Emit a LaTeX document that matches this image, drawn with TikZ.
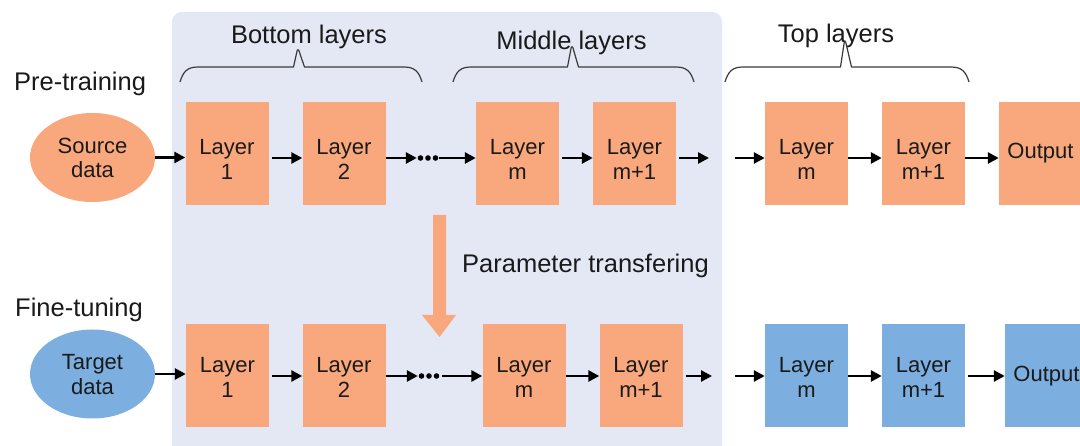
\documentclass[tikz,border=0pt]{standalone}
\usepackage{fontspec}
\setmainfont{Liberation Sans}
\usetikzlibrary{shapes.geometric,arrows.meta}
\definecolor{orangebox}{HTML}{F8A87C}
\definecolor{bluebox}{HTML}{7CAEE0}
\definecolor{panelbg}{HTML}{E4E8F5}
\definecolor{inktext}{HTML}{1A1A1A}
\definecolor{braceink}{HTML}{3A3A3A}
\newcommand\twolines[3][18pt]{\raisebox{0pt}[\dimexpr\height+#1\relax][\depth]{\begin{tabular}{@{}c@{}}#2\\#3\end{tabular}}}
\tikzset{
  layerbox/.style={rectangle, draw=none, minimum width=83pt, minimum height=103pt, inner sep=0pt, font=\fontsize{22}{25}\selectfont, text=inktext},
  orangelayer/.style={layerbox, fill=orangebox},
  bluelayer/.style={layerbox, fill=bluebox},
  dataellipse/.style={ellipse, draw=none, minimum width=125pt, minimum height=89pt, inner sep=0pt, font=\fontsize{22}{24.5}\selectfont, text=inktext},
  flow/.style={line width=2.6pt, draw=black, -{Triangle[length=11pt,width=11pt]}, shorten <=3pt},
  headlabel/.style={font=\fontsize{25.5}{30}\selectfont, text=inktext, inner sep=0pt},
  bracestyle/.style={draw=braceink, line width=1.2pt, line join=round},
  dotsnode/.style={inner sep=0pt, minimum width=22pt, minimum height=6pt},
}
\def\mybrace#1#2#3#4{\draw[bracestyle] (#1,82) .. controls (#1+3,72) and (#1+7,67) .. (#1+18,67) -- (#2-4.5,67) -- (#2-0.7,#4) -- (#2+0.7,#4) -- (#2+6.5,67) -- (#3-18,67) .. controls (#3-7,67) and (#3-3,72) .. (#3,82);}
\begin{document}
\begin{tikzpicture}[x=1pt,y=-1pt]
\useasboundingbox (0,0) rectangle (1080,446);
\clip (0,0) rectangle (1080,446);
\fill[white] (0,0) rectangle (1080,446);
% panel
\fill[panelbg, rounded corners=10pt] (172,12) rectangle (722,470);

% headings
\node[headlabel, anchor=base] (hbottom) at (309,44) {Bottom layers};
\node[headlabel, anchor=base] (hmiddle) at (571.5,50) {Middle layers};
\node[headlabel, anchor=base] (htop) at (836,43) {Top layers};
\node[headlabel, anchor=base west] (pre) at (14,91) {Pre-training};
\node[headlabel, anchor=base west] (fine) at (15,317) {Fine-tuning};
\node[headlabel, anchor=base west] (ptrans) at (462,273) {Parameter transfering};

% braces
\mybrace{180}{298}{422}{50}
\mybrace{453}{572}{694}{47}
\mybrace{725}{845}{969}{42}

% top row
\node[dataellipse, fill=orangebox] (src) at (92.5,157.5) {\twolines[6pt]{Source}{data}};
\node[orangelayer] (a1) at (227,153.5) {\twolines{Layer}{1}};
\node[orangelayer] (a2) at (344,153.5) {\twolines{Layer}{2}};
\node[dotsnode] (adots) at (428,158) {};
\fill (adots.center) ++(-7.5,0) circle (2.8pt) (adots.center) circle (2.8pt) (adots.center) ++(7.5,0) circle (2.8pt);
\node[orangelayer] (am) at (517.5,153.5) {\twolines{Layer}{m}};
\node[orangelayer] (amp) at (634.5,153.5) {\twolines{Layer}{m+1}};
\coordinate (aout1) at (709,158);
\coordinate (ain2) at (735,158);
\node[orangelayer] (tm) at (806.5,153.5) {\twolines{Layer}{m}};
\node[orangelayer] (tmp) at (923.5,153.5) {\twolines{Layer}{m+1}};
\node[orangelayer] (tout) at (1040.5,153.5) {Output};

\draw[flow, shorten <=0pt] (src) -- (a1.west |- src);
\draw[flow] (a1.east |- 0,158) -- (a2.west |- 0,158);
\draw[flow, shorten <=0pt] (a2.east |- 0,158) -- (adots.west);
\draw[flow, shorten <=0pt] (adots.east) -- (am.west |- 0,158);
\draw[flow] (am.east |- 0,158) -- (amp.west |- 0,158);
\draw[flow] (amp.east |- 0,158) -- (aout1);
\draw[flow, shorten <=0pt] (ain2) -- (tm.west |- 0,158);
\draw[flow, shorten <=0pt] (tm.east |- 0,158) -- (tmp.west |- 0,158);
\draw[flow, shorten <=0pt] (tmp.east |- 0,158) -- (tout.west |- 0,158);

% parameter transfer arrow
\coordinate (ptop) at (439.5,215);
\coordinate (ptip) at (439.5,337);
\fill[orangebox] (433,215) -- (446,215) -- (446,315) -- (456,315) -- (ptip) -- (422,315) -- (433,315) -- cycle;

% bottom row
\node[dataellipse, fill=bluebox] (tgt) at (92.5,374) {\twolines[6pt]{Target}{data}};
\node[orangelayer] (b1) at (227.5,376) {\twolines[9pt]{Layer}{1}};
\node[orangelayer] (b2) at (344,376) {\twolines[9pt]{Layer}{2}};
\node[dotsnode] (bdots) at (429,376) {};
\fill (bdots.center) ++(-7.5,0) circle (2.8pt) (bdots.center) circle (2.8pt) (bdots.center) ++(7.5,0) circle (2.8pt);
\node[orangelayer] (bm) at (524,376) {\twolines[9pt]{Layer}{m}};
\node[orangelayer] (bmp) at (641,376) {\twolines[9pt]{Layer}{m+1}};
\coordinate (bout1) at (712,376);
\coordinate (bin2) at (735,376);
\node[bluelayer] (cm) at (806.5,376) {\twolines[9pt]{Layer}{m}};
\node[bluelayer] (cmp) at (923.5,376) {\twolines[9pt]{Layer}{m+1}};
\node[bluelayer] (cout) at (1046.5,376) {Output};

\draw[flow, shorten <=0pt] (tgt) -- (b1.west |- tgt);
\draw[flow] (b1.east) -- (b2.west);
\draw[flow, shorten <=0pt] (b2.east) -- (bdots.west);
\draw[flow, shorten <=2pt] (bdots.east) -- (bm.west);
\draw[flow, shorten <=0pt] (bm.east) -- (bmp.west);
\draw[flow] (bmp.east) -- (bout1);
\draw[flow, shorten <=0pt] (bin2) -- (cm.west);
\draw[flow, shorten <=0pt] (cm.east) -- (cmp.west);
\draw[flow] (cmp.east) -- (cout.west);
\end{tikzpicture}
\end{document}
